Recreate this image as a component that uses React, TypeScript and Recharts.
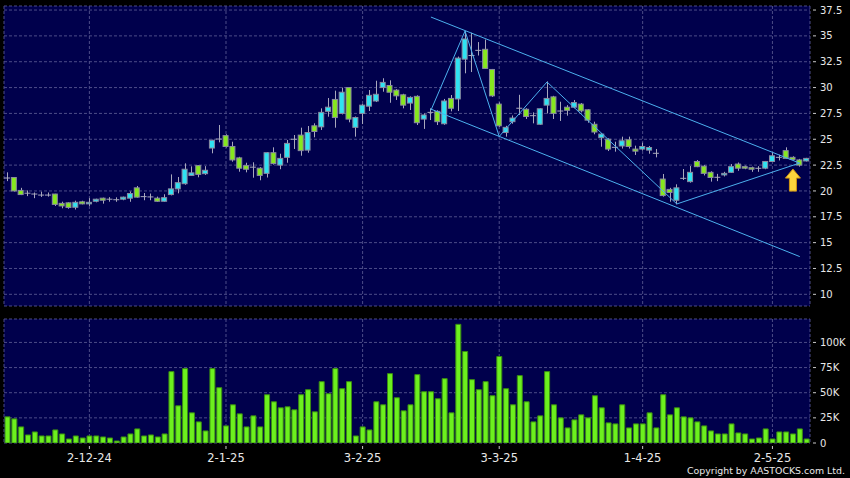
import React from "react";
import {
  ComposedChart,
  Bar,
  Line,
  XAxis,
  YAxis,
  CartesianGrid,
  ReferenceDot,
} from "recharts";

// daily candles, Nov 13 2024 .. May 12 2025 (118 sessions)
const opens = [
  21.25, 21.3, 20.05, 19.78, 19.7, 19.6, 19.6, 19.7, 18.8, 18.85,
  18.42, 18.95, 18.75, 19.0, 19.3, 19.2, 19.15, 19.2, 19.3, 20.3,
  19.45, 19.42, 19.3, 19.0, 19.65, 20.2, 20.7, 21.5, 22.45, 21.67,
  24.15, 25.02, 25.35, 24.3, 23.2, 22.45, 22.3, 22.2, 21.7, 23.7,
  22.5, 23.25, 25.0, 25.4, 23.95, 26.3, 26.2, 27.7, 28.85, 27.5,
  30.0, 26.15, 27.5, 28.2, 28.7, 30.0, 30.2, 29.75, 29.3, 28.5,
  29.15, 26.95, 27.6, 27.7, 26.5, 28.95, 28.9, 32.75, 33.1, 33.6,
  33.7, 31.75, 28.4, 25.65, 26.7, 28.0, 27.9, 27.28, 26.45, 28.3,
  29.1, 27.73, 28.1, 28.1, 28.4, 27.85, 26.45, 25.15, 25.0, 24.22,
  24.35, 24.95, 24.05, 24.05, 23.95, 23.64, 21.15, 20.15, 19.1, 21.22,
  20.9, 22.85, 22.4, 21.8, 21.32, 21.55, 21.8, 22.6, 22.35, 22.25,
  22.19, 22.2, 22.85, 23.25, 23.9, 23.25, 23.0, 22.9,
];
const highs = [
  21.8, 21.35, 20.3, 20.05, 19.85, 19.93, 19.85, 19.72, 18.96, 18.9,
  19.06, 19.05, 19.3, 19.25, 19.35, 19.4, 19.38, 19.45, 19.95, 20.48,
  19.8, 19.75, 19.45, 19.68, 21.6, 21.35, 22.67, 22.38, 22.5, 22.4,
  24.95, 26.38, 25.48, 24.76, 23.3, 22.73, 22.77, 22.3, 23.75, 24.22,
  23.6, 24.93, 25.41, 26.12, 26.28, 26.54, 27.99, 28.99, 29.7, 30.0,
  30.05, 27.2, 28.4, 29.76, 30.66, 30.9, 30.7, 29.85, 29.4, 29.15,
  29.25, 27.5, 27.99, 27.8, 28.9, 29.28, 33.0, 35.47, 35.3, 34.4,
  34.65, 31.8, 28.57, 26.3, 27.3, 29.3, 28.0, 27.6, 28.0, 30.6,
  29.2, 28.63, 28.3, 28.8, 28.5, 27.9, 26.7, 25.6, 25.1, 24.76,
  25.25, 25.25, 24.38, 24.67, 24.35, 24.06, 21.64, 20.3, 20.64, 22.12,
  22.41, 22.99, 22.5, 21.9, 21.65, 21.85, 22.6, 22.75, 22.45, 22.35,
  22.4, 22.9, 23.7, 23.5, 24.22, 23.35, 23.1, 23.2,
];
const lows = [
  20.95, 19.95, 19.6, 19.5, 19.3, 19.42, 19.45, 18.55, 18.32, 18.28,
  18.2, 18.7, 18.55, 18.9, 18.77, 18.96, 18.95, 19.1, 18.95, 19.35,
  19.1, 19.1, 18.95, 18.95, 19.57, 19.77, 20.6, 21.45, 21.32, 21.55,
  23.64, 24.7, 24.2, 22.83, 21.86, 21.8, 21.28, 21.03, 21.3, 22.55,
  22.1, 22.73, 24.06, 23.41, 23.7, 25.19, 25.9, 27.18, 26.12, 27.4,
  26.64, 25.25, 26.47, 27.73, 28.6, 29.6, 28.53, 28.8, 27.99, 27.83,
  26.38, 26.0, 26.86, 26.38, 26.4, 27.7, 27.73, 31.38, 31.5, 33.1,
  31.8, 29.1, 26.2, 25.25, 26.5, 27.35, 26.96, 26.54, 26.4, 27.5,
  26.96, 26.77, 27.28, 28.0, 27.6, 26.6, 25.48, 24.28, 23.86, 23.8,
  24.1, 24.1, 23.48, 23.9, 23.6, 23.25, 19.45, 18.96, 18.71, 21.06,
  20.8, 22.3, 21.5, 20.9, 20.95, 21.4, 21.75, 21.95, 22.1, 21.85,
  21.85, 22.1, 22.8, 22.95, 23.1, 22.95, 22.35, 22.85,
];
const closes = [
  21.25, 20.0, 19.65, 19.78, 19.7, 19.6, 19.6, 18.7, 18.55, 18.4,
  18.9, 18.75, 18.9, 19.2, 19.1, 19.2, 19.15, 19.4, 19.75, 19.4,
  19.45, 19.42, 19.0, 19.35, 20.2, 20.8, 22.1, 21.75, 21.6, 22.0,
  24.9, 25.02, 24.3, 23.0, 22.2, 22.1, 22.3, 21.5, 23.7, 22.65,
  23.15, 24.6, 25.0, 23.9, 25.65, 25.75, 27.6, 28.1, 27.1, 29.55,
  26.95, 27.1, 28.3, 29.25, 29.35, 30.5, 29.55, 29.2, 28.3, 29.05,
  26.6, 27.35, 27.6, 26.7, 28.7, 28.0, 32.85, 34.7, 33.1, 33.6,
  31.85, 29.2, 26.3, 26.15, 27.05, 28.0, 27.2, 27.28, 27.95, 28.95,
  27.5, 27.73, 27.8, 28.55, 27.75, 26.85, 25.7, 25.5, 24.05, 24.22,
  24.85, 24.3, 23.85, 24.3, 24.2, 23.64, 19.55, 19.85, 20.3, 21.22,
  21.8, 22.35, 21.7, 21.3, 21.32, 21.7, 22.35, 22.2, 22.2, 22.1,
  22.19, 22.85, 23.4, 23.25, 23.15, 23.05, 22.5, 23.15,
];
// volume in thousands of shares
const volumesK = [
  26, 24, 16, 8, 11, 7, 7, 13, 9, 4,
  7, 5, 7, 7, 6, 5, 2, 6, 9, 14,
  7, 8, 6, 9, 71, 37, 74, 30, 21, 12,
  74, 55, 17, 38, 29, 16, 27, 16, 48, 41,
  35, 36, 33, 48, 53, 31, 61, 49, 74, 54,
  61, 7, 16, 13, 41, 38, 69, 45, 32, 38,
  68, 51, 51, 44, 64, 30, 118, 91, 63, 53,
  61, 47, 86, 54, 38, 67, 41, 21, 27, 71,
  38, 25, 15, 23, 28, 25, 47, 35, 20, 19,
  38, 15, 19, 19, 30, 15, 48, 28, 35, 26,
  25, 21, 17, 12, 9, 9, 19, 10, 9, 4,
  5, 14, 4, 11, 11, 9, 14, 4,
];

const tickIdx = [12, 32, 52, 72, 93, 112];
const tickLabels = ["2-12-24", "2-1-25", "3-2-25", "3-3-25", "1-4-25", "2-5-25"];
const priceTicks = [10, 12.5, 15, 17.5, 20, 22.5, 25, 27.5, 30, 32.5, 35, 37.5];
const volTicks = [0, 25, 50, 75, 100];

// drawn trend lines (session index -> price)
const zigIdx = [62, 67, 72, 79, 98, 116];
const zigVal = [27.8, 35.47, 25.27, 30.54, 18.74, 22.7];
const upperIdx = [62, 116];
const upperVal = [36.82, 22.69];
const lowerIdx = [62, 116];
const lowerVal = [27.92, 13.65];
const arrowIdx = 115;
const arrowVal = 21.05;

const pick = (idx: number[], val: number[], i: number) => {
  const k = idx.indexOf(i);
  return k < 0 ? undefined : val[k];
};

const rows = opens.map((o, i) => ({
  i,
  o,
  h: highs[i],
  l: lows[i],
  c: closes[i],
  v: volumesK[i],
  zig: pick(zigIdx, zigVal, i),
  up: pick(upperIdx, upperVal, i),
  lo: pick(lowerIdx, lowerVal, i),
}));

const NAVY = "#00004c";
const GRID = "#4c4c88";
const CYAN = "#2fe3f2";
const GREEN = "#86e81e";
const EDGE = "#8a8aa0";
const WICK = "#a8a8bc";
const TREND = "#4cb0ee";
const TXT = "#e8e8e8";
const FONT = "DejaVu Sans";

function Candle(props: any) {
  const { x, y, width, height, payload } = props;
  if (!payload || height == null) return null;
  const { o, h, l, c } = payload;
  const k = height / (h - l);
  const yo = y + (h - o) * k;
  const yc = y + (h - c) * k;
  const mid = Math.round(x + width / 2) + 0.5;
  if (o === c) {
    return (
      <g>
        <line x1={mid} x2={mid} y1={y} y2={y + height} stroke={WICK} />
        <line x1={x} x2={x + width} y1={yo} y2={yo} stroke={WICK} />
      </g>
    );
  }
  const top = Math.min(yo, yc);
  const bh = Math.max(Math.abs(yc - yo), 1.5);
  return (
    <g>
      <line x1={mid} x2={mid} y1={y} y2={y + height} stroke={WICK} />
      <rect
        x={x + 0.5}
        y={top}
        width={width - 1}
        height={bh}
        fill={c > o ? CYAN : GREEN}
        stroke={EDGE}
      />
    </g>
  );
}

function Arrow(props: any) {
  const { cx, cy } = props;
  if (cx == null || cy == null) return null;
  const pts = [
    [cx, cy - 11],
    [cx + 7.5, cy - 2],
    [cx + 3.5, cy - 2],
    [cx + 3.5, cy + 11],
    [cx - 3.5, cy + 11],
    [cx - 3.5, cy - 2],
    [cx - 7.5, cy - 2],
  ]
    .map((p) => p.join(","))
    .join(" ");
  return <polygon points={pts} fill="#fcd53c" stroke="#d09412" strokeWidth={1} />;
}

function YTick(props: any) {
  const { x, y, payload, fmt } = props;
  return (
    <g>
      <line x1={x - 7} x2={x - 4} y1={y} y2={y} stroke="#c8c8c8" />
      <text x={x} y={y} dy={3.6} fill={TXT} fontSize={10} fontFamily={FONT}>
        {fmt(payload.value)}
      </text>
    </g>
  );
}

function XTick(props: any) {
  const { x, y, payload } = props;
  const k = tickIdx.indexOf(payload.value);
  return (
    <g>
      <line x1={x} x2={x} y1={y - 5} y2={y - 2} stroke="#c8c8c8" />
      <text x={x} y={y} dy={11} textAnchor="middle" fill={TXT} fontSize={11.5} fontFamily={FONT}>
        {k < 0 ? "" : tickLabels[k]}
      </text>
    </g>
  );
}

export default function App() {
  return (
    <div
      style={{
        position: "absolute",
        left: 0,
        top: 0,
        width: 850,
        height: 478,
        background: "#000",
        overflow: "hidden",
        fontFamily: FONT,
      }}
    >
      <div style={{ position: "absolute", left: 0, top: 0 }}>
        <ComposedChart
          width={850}
          height={312}
          data={rows}
          margin={{ top: 6, right: 0, bottom: 6, left: 4 }}
        >
          <CartesianGrid fill={NAVY} stroke={GRID} strokeDasharray="3 2" />
          <XAxis dataKey="i" type="category" hide ticks={tickIdx} interval={0} />
          <YAxis
            orientation="right"
            type="number"
            domain={[8.87, 37.89]}
            allowDataOverflow
            ticks={priceTicks}
            interval={0}
            width={40}
            axisLine={false}
            tickLine={false}
            tickSize={6}
            tickMargin={4}
            tick={<YTick fmt={(v: number) => String(v)} />}
          />
          <Bar
            dataKey={(d: any) => [d.l, d.h]}
            barSize={6}
            shape={Candle}
            isAnimationActive={false}
          />
          <Line dataKey="up" stroke={TREND} strokeWidth={1} dot={false} connectNulls isAnimationActive={false} />
          <Line dataKey="lo" stroke={TREND} strokeWidth={1} dot={false} connectNulls isAnimationActive={false} />
          <Line dataKey="zig" stroke={TREND} strokeWidth={1} dot={false} connectNulls isAnimationActive={false} />
          <ReferenceDot x={arrowIdx} y={arrowVal} shape={Arrow} />
        </ComposedChart>
      </div>
      <div style={{ position: "absolute", left: 0, top: 312 }}>
        <ComposedChart
          width={850}
          height={166}
          data={rows}
          margin={{ top: 7, right: 0, bottom: 0, left: 4 }}
        >
          <CartesianGrid fill={NAVY} stroke={GRID} strokeDasharray="3 2" />
          <XAxis
            dataKey="i"
            type="category"
            ticks={tickIdx}
            interval={0}
            height={35}
            axisLine={false}
            tickLine={false}
            tickSize={6}
            tickMargin={2}
            tick={<XTick />}
          />
          <YAxis
            orientation="right"
            type="number"
            domain={[0, 123.3]}
            allowDataOverflow
            ticks={volTicks}
            interval={0}
            width={40}
            axisLine={false}
            tickLine={false}
            tickSize={6}
            tickMargin={4}
            tick={<YTick fmt={(v: number) => (v === 0 ? "0" : `${v}K`)} />}
          />
          <Bar dataKey="v" barSize={5} fill="#6cf01e" stroke="#3a8c12" isAnimationActive={false} />
        </ComposedChart>
      </div>
      <svg
        width={172}
        height={18}
        style={{ position: "absolute", left: 676, top: 460 }}
      >
        <text x={11} y={14} fill={TXT} fontSize={9.4} fontFamily={FONT}>
          Copyright by AASTOCKS.com Ltd.
        </text>
      </svg>
    </div>
  );
}
